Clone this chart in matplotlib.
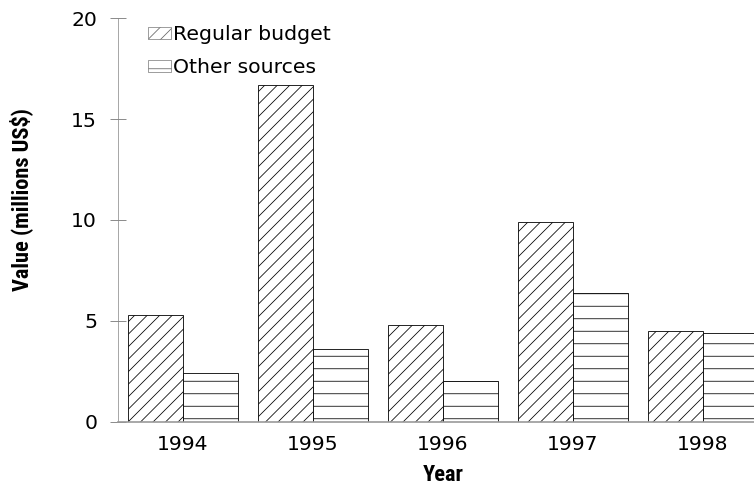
import matplotlib
matplotlib.use('Agg')
import matplotlib.pyplot as plt
from matplotlib import font_manager as fm
import numpy as np

years = ['1994', '1995', '1996', '1997', '1998']
regular_budget = [5.3, 16.7, 4.8, 9.9, 4.5]
other_sources = [2.4, 3.6, 2.0, 6.4, 4.4]

# bold labels: condensed face if the system has one
names = {f.name for f in fm.fontManager.ttflist}
label_font = dict(family='DejaVu Sans', fontweight='bold', fontsize=16)
for cond in ['Liberation Sans Narrow', 'Roboto Condensed', 'Open Sans Condensed']:
    if cond in names:
        label_font = dict(family=cond, fontweight='bold', fontsize=21.5)
        break

plt.rcParams['font.family'] = 'DejaVu Sans'
plt.rcParams['hatch.linewidth'] = 0.75

fig = plt.figure(figsize=(754 / 75, 490 / 75), dpi=75)
ax = fig.add_axes([0.1565, 0.1394, 0.8435, 0.8233])

x = np.arange(len(years))
w = 0.423
ax.bar(x - w / 2, regular_budget, w, color='white', edgecolor='black',
       linewidth=0.8, hatch='//', label='Regular budget')
ax.bar(x + w / 2, other_sources, w, color='white', edgecolor='black',
       linewidth=0.8, hatch='-', label='Other sources')

ax.set_xlim(-0.5, 4.392)
ax.set_ylim(0, 20)
ax.set_yticks([0, 5, 10, 15, 20])
ax.set_xticks(x)
ax.set_xticklabels(years)

ax.spines['top'].set_visible(False)
ax.spines['right'].set_visible(False)
ax.spines['left'].set_color('#888888')
ax.spines['left'].set_linewidth(0.7)
ax.spines['bottom'].set_color('#999999')
ax.spines['bottom'].set_linewidth(1.6)

ax.tick_params(axis='y', direction='inout', length=16, width=0.8,
               color='#777777', labelsize=19.5, pad=12)
ax.tick_params(axis='x', length=0, labelsize=19.5, pad=13)

ax.set_ylabel('Value (millions US$)', **label_font)
ax.yaxis.set_label_coords(-0.134, 0.55)
ax.set_xlabel('Year', va='top', **label_font)
ax.xaxis.set_label_coords(0.511, -0.105)

leg = ax.legend(loc='upper left', bbox_to_anchor=(0.035, 1.003), frameon=False,
                fontsize=19.5, handlelength=1.1, handleheight=0.55,
                handletextpad=0.1, labelspacing=0.7, borderaxespad=0)
for p in leg.get_patches():
    p.set_edgecolor('#666666')
    p.set_linewidth(0.6)

fig.savefig('out.png', dpi=75)
